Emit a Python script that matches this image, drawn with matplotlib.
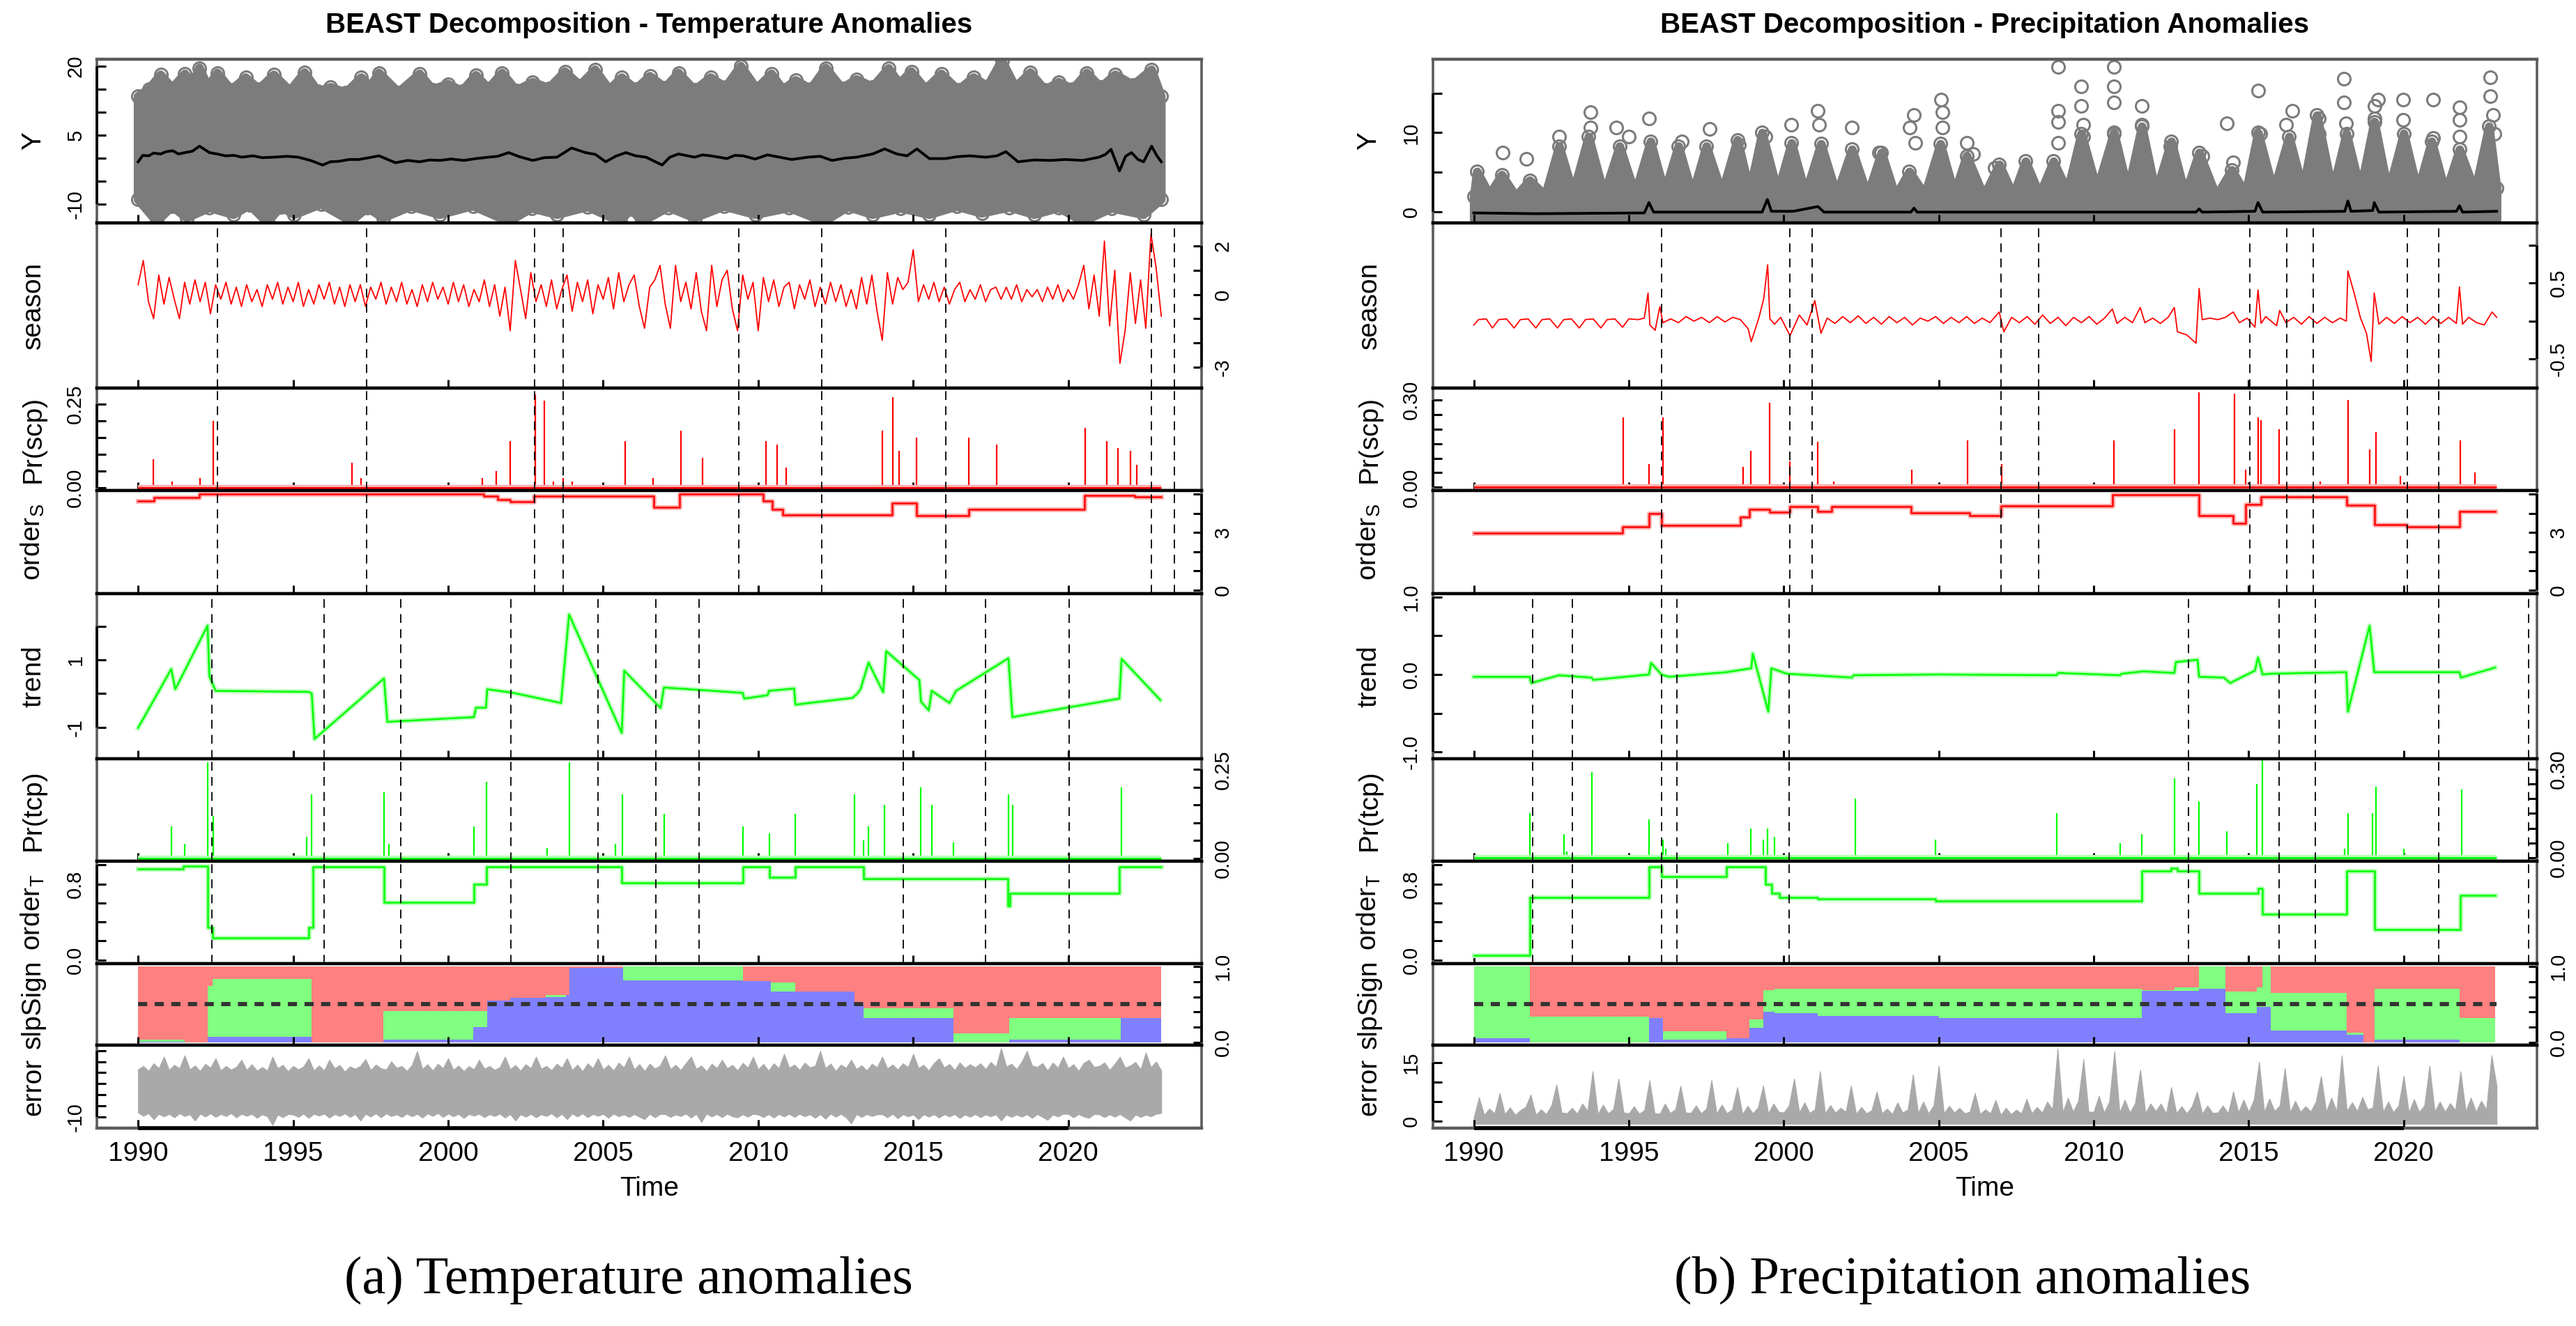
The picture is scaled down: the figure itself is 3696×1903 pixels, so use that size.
import numpy as np
import matplotlib
matplotlib.use("Agg")
import matplotlib.pyplot as plt
from matplotlib.transforms import blended_transform_factory

plt.rcParams['font.family'] = ['Liberation Sans', 'DejaVu Sans']
plt.rcParams['mathtext.fontset'] = 'custom'
plt.rcParams['mathtext.rm'] = 'Liberation Sans'

# ---------------------------------------------------------------- data
DATA_START, DATA_END = 1990.0, 2023.0
YEAR_TICKS = [1990, 1995, 2000, 2005, 2010, 2015, 2020]

# ===== temperature anomalies (left) =====
# Y: envelope of the dense circle cloud
t_ytop_x = [1990.0, 1990.35, 1990.73, 1991.1, 1991.51, 1991.75, 1991.98, 1992.25,
            1992.56, 1993.0, 1993.47, 1993.9, 1994.38, 1994.9, 1995.37, 1995.8,
            1996.21, 1996.7, 1997.2, 1997.5, 1997.77, 1998.4, 1999.08, 1999.5,
            1999.99, 2000.45, 2000.9, 2001.3, 2001.74, 2002.2, 2002.73, 2003.25,
            2003.77, 2004.25, 2004.74, 2005.2, 2005.6, 2006.05, 2006.51, 2007.0,
            2007.43, 2007.95, 2008.47, 2008.95, 2009.44, 2009.95, 2010.43, 2010.8,
            2011.21, 2011.7, 2012.18, 2012.7, 2013.17, 2013.7, 2014.21, 2014.55,
            2014.94, 2015.4, 2015.91, 2016.45, 2016.95, 2017.4, 2017.86, 2018.3,
            2018.78, 2019.25, 2019.69, 2020.15, 2020.6, 2021.05, 2021.52, 2022.1,
            2022.69, 2023.0]
t_ytop_v = [13.4, 15.0, 18.1, 15.2, 18.3, 16.0, 19.6, 15.5,
            18.5, 14.8, 17.5, 15.0, 18.1, 14.6, 18.6, 14.5,
            15.4, 14.2, 17.5, 15.6, 18.5, 14.3, 18.3, 14.9,
            16.1, 14.6, 18.0, 15.1, 18.5, 14.7, 16.5, 15.2,
            18.8, 15.8, 19.2, 14.9, 17.5, 15.0, 17.8, 15.3,
            18.5, 14.8, 17.5, 15.4, 20.0, 15.1, 18.3, 14.9,
            16.9, 15.0, 19.6, 15.2, 17.1, 15.5, 19.5, 16.2,
            18.8, 15.0, 18.3, 14.8, 17.5, 15.6, 21.2, 15.4,
            18.6, 14.8, 16.5, 15.0, 18.5, 15.4, 18.1, 15.9,
            19.2, 13.4]
t_ybot_x = [1990.0, 1990.6, 1991.1, 1991.57, 1992.3, 1993.08, 1993.6, 1994.17,
            1994.6, 1995.04, 1995.9, 1996.86, 1997.4, 1997.9, 1998.8, 1999.73,
            2000.8, 2001.95, 2002.7, 2003.51, 2004.5, 2005.55, 2005.9, 2006.25,
            2007.1, 2007.95, 2008.9, 2009.91, 2011.0, 2012.12, 2012.9, 2013.69,
            2014.6, 2015.52, 2016.4, 2017.21, 2018.1, 2018.91, 2019.7, 2020.47,
            2021.4, 2022.43, 2023.0]
t_ybot_v = [-9.0, -13.8, -10.5, -13.0, -10.8, -12.3, -10.2, -14.0,
            -10.6, -12.3, -10.0, -13.7, -10.8, -13.0, -10.5, -12.3,
            -10.4, -13.8, -10.9, -12.3, -10.6, -13.8, -11.0, -13.8,
            -10.7, -13.0, -10.5, -12.3, -10.8, -13.8, -10.6, -12.3,
            -10.9, -12.3, -10.5, -12.0, -10.7, -12.3, -10.8, -13.8,
            -10.9, -12.3, -9.0]
# fitted curve (black line)
t_fit_x = [1990.0, 1990.15, 1990.34, 1990.5, 1990.73, 1990.9, 1991.12, 1991.3, 1991.51,
           1991.75, 1991.98, 1992.3, 1992.55, 1992.82, 1993.1, 1993.34, 1993.7, 1994.0,
           1994.38, 1994.8, 1995.17, 1995.56, 1995.95, 1996.2, 1996.47, 1996.8, 1997.12,
           1997.45, 1997.77, 1998.3, 1998.7, 1999.08, 1999.4, 1999.73, 2000.1, 2000.51,
           2000.9, 2001.3, 2001.6, 2001.95, 2002.3, 2002.73, 2003.1, 2003.51, 2003.98,
           2004.43, 2004.75, 2005.08, 2005.4, 2005.73, 2006.05, 2006.38, 2006.9, 2007.15,
           2007.43, 2007.95, 2008.2, 2008.47, 2008.99, 2009.25, 2009.51, 2009.9, 2010.3,
           2011.08, 2011.6, 2012.0, 2012.38, 2012.8, 2013.17, 2013.69, 2014.08, 2014.47,
           2014.8, 2015.12, 2015.52, 2016.04, 2016.4, 2016.82, 2017.34, 2017.7, 2017.99,
           2018.38, 2018.9, 2019.43, 2019.9, 2020.47, 2020.99, 2021.2, 2021.38, 2021.65,
           2021.85, 2022.04, 2022.25, 2022.43, 2022.69, 2022.85, 2023.0]
t_fit_v = [-0.8, 0.6, 0.5, 1.1, 0.9, 1.4, 1.6, 0.9, 1.2,
           1.5, 2.6, 1.2, 0.9, 0.5, 0.6, 0.2, 0.5, 0.1,
           0.2, 0.4, 0.2, -0.5, -1.5, -0.8, -0.7, -0.3, -0.3,
           0.1, 0.5, -1.0, -0.5, -0.8, -0.4, -0.5, -0.2, -0.5,
           -0.1, 0.2, 0.4, 1.2, 0.3, -0.5, 0.1, 0.2, 2.2,
           1.2, 0.8, -0.8, 0.4, 1.2, 0.5, 0.2, -1.5, 0.2,
           0.9, 0.2, 0.7, 0.5, -0.1, 0.6, 0.5, -0.2, 0.7,
           -0.3, 0.2, 0.4, -0.5, 0.0, 0.2, 0.9, 2.0, 0.9,
           0.5, 2.0, -0.1, -0.1, 0.3, 0.5, 0.2, 0.5, 1.4,
           -0.8, -0.4, -0.5, -0.3, -0.5, 0.2, 0.8, 1.9, -2.8,
           0.4, 1.2, -0.3, -0.8, 2.6, 0.6, -0.8]
# seasonal component, 6 values per year 1990-2022, plus 2023.0
t_season = [
    0.4, 1.4, -0.3, -1.0, 0.8, -0.4,     # 1990
    0.7, -0.2, -1.0, 0.5, -0.4, 0.6,     # 1991
    -0.3, 0.5, -0.8, 0.4, -0.2, 0.5,     # 1992
    -0.4, 0.3, -0.5, 0.4, -0.3, 0.2,     # 1993
    -0.5, 0.4, -0.2, 0.5, -0.4, 0.3,     # 1994
    -0.3, 0.5, -0.5, 0.2, -0.4, 0.4,     # 1995
    -0.2, 0.5, -0.4, 0.3, -0.5, 0.4,     # 1996
    -0.3, 0.4, -0.5, 0.3, -0.2, 0.5,     # 1997
    -0.4, 0.3, -0.3, 0.5, -0.4, 0.2,     # 1998
    -0.5, 0.4, -0.3, 0.5, -0.2, 0.3,     # 1999
    -0.4, 0.5, -0.3, 0.4, -0.5, 0.2,     # 2000
    -0.3, 0.6, -0.5, 0.4, -0.9, 0.3,     # 2001
    -1.5, 1.4, 0.2, -1.0, 0.9, -0.3,     # 2002
    0.4, -0.5, 0.6, -0.6, 0.2, 0.8,      # 2003
    -0.7, 0.5, -0.3, 0.6, -0.8, 0.4,     # 2004
    -0.2, 0.7, -0.6, 0.9, -0.3, 0.4,     # 2005
    0.8, -0.5, -1.4, 0.3, 0.6, 1.2,      # 2006
    -0.4, -1.4, 1.2, -0.3, 0.5, -0.6,    # 2007
    0.9, -0.7, -1.5, 1.2, -0.5, 0.6,     # 2008
    1.0, -0.6, -1.5, 0.8, -0.2, 0.5,     # 2009
    -1.5, 0.7, -0.3, 0.6, -0.5, 0.3,     # 2010
    0.5, -0.6, 0.4, -0.2, 0.6, -0.5,     # 2011
    0.3, -0.4, 0.5, -0.3, 0.4, -0.5,     # 2012
    0.2, -0.6, 0.7, -0.4, 0.8, -0.7,     # 2013
    -1.9, 0.9, -0.4, 0.7, 0.2, 0.5,      # 2014
    1.85, -0.3, 0.4, -0.2, 0.5, -0.3,    # 2015
    0.3, -0.4, 0.2, 0.5, -0.3, 0.2,      # 2016
    -0.2, 0.4, -0.3, 0.2, 0.3, -0.2,     # 2017
    0.3, -0.2, 0.4, -0.3, 0.2, -0.1,     # 2018
    0.2, -0.3, 0.3, -0.2, 0.4, -0.3,     # 2019
    0.2, -0.2, 0.4, 1.2, -0.6, 0.8,      # 2020
    -0.9, 2.2, -1.3, 1.0, -2.85, -1.5,   # 2021
    0.9, -1.2, 0.6, -1.4, 2.5, 1.1,      # 2022
    -0.9]                                # 2023.0
t_scp = [1992.56, 1997.38, 2002.78, 2003.7, 2009.38, 2012.05, 2016.04, 2022.69, 2023.42]
t_scp_prob_x = [1990.5, 1991.1, 1992.0, 1992.43, 1996.9, 1997.2, 2001.1, 2001.55, 2002.0,
                2002.8, 2003.1, 2003.4, 2003.7, 2004.0, 2005.7, 2006.6, 2007.5, 2008.2,
                2010.25, 2010.6, 2010.9, 2014.0, 2014.35, 2014.55, 2015.1, 2016.8, 2017.7,
                2020.55, 2021.25, 2021.6, 2022.0, 2022.2]
t_scp_prob_v = [0.085, 0.02, 0.03, 0.20, 0.075, 0.03, 0.03, 0.05, 0.14,
                0.28, 0.26, 0.02, 0.03, 0.02, 0.14, 0.03, 0.17, 0.09,
                0.14, 0.13, 0.06, 0.17, 0.27, 0.11, 0.15, 0.15, 0.13,
                0.18, 0.14, 0.12, 0.11, 0.07]
t_ords_x = [1990.0, 1990.51, 1991.97, 2001.15, 2001.6, 2001.99, 2002.77, 2006.63, 2007.47,
            2010.15, 2010.45, 2010.8, 2014.33, 2015.11, 2016.8, 2020.53, 2022.15, 2023.0]
t_ords_v = [4.64, 4.85, 5.0, 4.9, 4.73, 4.6, 4.92, 4.32, 5.0,
            4.64, 4.2, 3.91, 4.56, 3.88, 4.23, 4.96, 4.88, 4.88]
t_trend_x = [1990.0, 1991.07, 1991.2, 1992.24, 1992.3, 1992.5, 1995.5, 1995.6, 1995.69,
             1997.93, 1998.04, 2000.83, 2000.9, 2001.22, 2001.26, 2002.1, 2003.64, 2003.9,
             2005.6, 2005.68, 2006.85, 2006.96, 2009.5, 2009.55, 2010.3, 2010.35, 2011.16,
             2011.2, 2013.04, 2013.2, 2013.3, 2013.56, 2014.03, 2014.13, 2015.2, 2015.25,
             2015.5, 2015.6, 2016.17, 2016.38, 2018.07, 2018.2, 2021.65, 2021.72, 2022.97]
t_trend_v = [-1.02, 0.73, 0.13, 2.02, 0.51, 0.08, 0.05, 0.0, -1.35,
             0.45, -0.84, -0.70, -0.42, -0.42, 0.13, 0.02, -0.28, 2.35,
             -1.17, 0.68, -0.43, 0.18, 0.02, -0.15, -0.05, 0.08, 0.15,
             -0.33, -0.13, 0.0, 0.13, 0.92, 0.04, 1.26, 0.40, -0.24,
             -0.50, 0.08, -0.28, 0.08, 1.05, -0.70, -0.15, 1.03, -0.19]
t_tcp = [1992.37, 1996.0, 1998.48, 2002.03, 2004.84, 2006.7, 2008.1, 2014.68, 2017.34, 2020.03]
t_tcp_prob_x = [1991.07, 1991.5, 1992.24, 1992.43, 1995.43, 1995.6, 1997.93, 1998.1, 2000.83,
                2001.24, 2003.2, 2003.9, 2005.4, 2005.63, 2006.96, 2009.5, 2010.37, 2011.2,
                2013.1, 2013.4, 2013.56, 2014.08, 2015.25, 2015.6, 2016.3, 2018.07, 2018.2,
                2021.72]
t_tcp_prob_v = [0.09, 0.04, 0.27, 0.12, 0.06, 0.18, 0.185, 0.04, 0.09,
                0.215, 0.03, 0.27, 0.04, 0.18, 0.125, 0.09, 0.07, 0.125,
                0.18, 0.05, 0.09, 0.15, 0.20, 0.15, 0.045, 0.18, 0.15,
                0.20]
t_ordt_x = [1990.0, 1991.46, 1992.24, 1992.4, 1995.5, 1995.63, 1997.93, 2000.83, 2001.24,
            2005.6, 2009.5, 2010.37, 2011.2, 2013.4, 2018.05, 2018.12, 2021.65, 2023.0]
t_ordt_v = [0.96, 0.99, 0.34, 0.23, 0.34, 0.98, 0.61, 0.80, 0.98,
            0.81, 0.98, 0.87, 0.98, 0.86, 0.57, 0.70, 0.98, 0.98]
# slope sign probabilities (step series): Pr(slope>0), Pr(slope=0); rest is Pr(slope<0)
t_slp_x = [1990.0, 1991.5, 1992.25, 1992.4, 1995.6, 1997.9, 2000.8, 2001.25, 2002.0, 2003.15,
           2003.8, 2003.9, 2005.65, 2009.5, 2010.4, 2011.2, 2013.1, 2013.4, 2016.3, 2018.1,
           2021.7, 2023.0]
t_slp_pos = [0.01, 0.0, 0.07, 0.07, 0.0, 0.03, 0.20, 0.55, 0.59, 0.60,
             0.62, 0.98, 0.82, 0.81, 0.67, 0.67, 0.52, 0.32, 0.0, 0.03,
             0.32, 0.32]
t_slp_zero = [0.02, 0.0, 0.67, 0.77, 0.0, 0.38, 0.21, 0.0, 0.0, 0.02,
              0.0, 0.0, 0.18, 0.0, 0.12, 0.0, 0.0, 0.13, 0.12, 0.29,
              0.0, 0.0]
# residuals: upper / lower edge of the band, 6 values per year, plus 2023.0
t_err_top = [
    11.5, 13.0, 10.8, 14.2, 12.0, 17.2,   # 1990
    11.2, 13.5, 12.0, 17.8, 11.5, 13.2,   # 1991
    10.8, 14.0, 12.2, 16.5, 11.0, 13.0,   # 1992
    11.4, 12.6, 15.8, 11.2, 13.8, 10.9,   # 1993
    12.5, 11.0, 17.2, 12.0, 13.5, 10.6,   # 1994
    13.0, 11.5, 12.8, 16.5, 11.0, 13.2,   # 1995
    11.0, 15.8, 12.0, 13.4, 10.5, 12.8,   # 1996
    11.8, 13.0, 16.1, 11.2, 13.6, 12.0,   # 1997
    11.4, 15.1, 12.2, 13.0, 10.8, 13.5,   # 1998
    19.8, 11.6, 13.8, 11.0, 14.0, 12.0,   # 1999
    16.5, 11.3, 13.2, 10.7, 12.9, 11.5,   # 2000
    15.8, 11.8, 13.0, 11.3, 12.5, 17.2,   # 2001
    11.6, 13.4, 10.9, 13.8, 12.0, 17.2,   # 2002
    11.8, 13.0, 11.1, 14.0, 12.2, 16.5,   # 2003
    11.2, 13.6, 10.6, 14.2, 12.0, 16.5,   # 2004
    11.4, 13.5, 11.0, 14.5, 12.3, 17.2,   # 2005
    11.5, 13.8, 10.8, 14.0, 11.9, 13.2,   # 2006
    17.8, 11.6, 13.5, 11.2, 14.3, 17.2,   # 2007
    11.7, 13.2, 10.6, 14.0, 12.1, 15.8,   # 2008
    12.0, 13.5, 11.0, 14.4, 12.3, 17.2,   # 2009
    11.5, 13.9, 10.9, 14.2, 12.0, 18.5,   # 2010
    12.2, 13.6, 11.2, 14.5, 12.4, 13.1,   # 2011
    19.8, 12.0, 14.1, 10.8, 13.6, 12.2,   # 2012
    15.8, 11.6, 13.3, 11.0, 14.0, 12.4,   # 2013
    17.2, 11.9, 13.7, 11.4, 14.2, 12.5,   # 2014
    18.5, 12.1, 13.5, 11.0, 14.3, 16.5,   # 2015
    12.3, 13.9, 11.2, 14.6, 12.1, 13.8,   # 2016
    12.4, 14.2, 11.6, 14.8, 12.6, 21.0,   # 2017
    12.8, 14.0, 11.6, 15.0, 19.8, 13.2,   # 2018
    12.6, 14.3, 11.0, 14.5, 12.2, 17.2,   # 2019
    12.0, 13.8, 10.8, 14.4, 15.8, 12.6,   # 2020
    13.0, 14.6, 11.2, 14.0, 17.2, 12.3,   # 2021
    13.2, 14.8, 11.5, 19.1, 12.4, 15.0,   # 2022
    11.0]
t_err_bot = [
    -8.0, -9.5, -8.3, -11.0, -8.6, -9.8,    # 1990
    -8.6, -10.2, -8.4, -9.6, -8.8, -11.6,   # 1991
    -8.5, -9.8, -8.4, -10.0, -8.7, -9.6,    # 1992
    -8.3, -10.2, -8.6, -9.5, -8.6, -10.4,   # 1993
    -8.8, -9.7, -13.6, -8.9, -10.1, -8.7,   # 1994
    -8.9, -10.0, -8.5, -10.4, -8.6, -9.4,   # 1995
    -8.5, -10.3, -8.7, -9.6, -8.4, -10.0,   # 1996
    -8.7, -11.6, -8.6, -9.8, -8.4, -10.2,   # 1997
    -8.4, -9.6, -8.8, -10.0, -8.5, -9.7,    # 1998
    -8.6, -10.3, -8.4, -9.5, -8.2, -10.0,   # 1999
    -8.5, -9.7, -8.6, -10.5, -8.7, -9.4,    # 2000
    -8.6, -10.1, -8.8, -9.6, -8.5, -10.3,   # 2001
    -8.7, -11.6, -8.8, -9.9, -8.6, -10.2,   # 2002
    -8.8, -9.6, -8.4, -10.2, -8.6, -11.0,   # 2003
    -8.4, -9.8, -8.4, -10.1, -8.7, -9.5,    # 2004
    -8.6, -10.4, -8.5, -9.7, -8.8, -10.0,   # 2005
    -8.7, -9.9, -11.0, -8.6, -10.2, -8.7,   # 2006
    -8.7, -10.0, -8.9, -9.6, -8.5, -10.3,   # 2007
    -8.6, -12.3, -8.5, -9.8, -8.7, -10.1,   # 2008
    -8.5, -9.7, -10.2, -8.8, -9.9, -8.6,    # 2009
    -8.9, -10.1, -8.7, -10.3, -8.6, -9.8,   # 2010
    -8.6, -10.0, -8.6, -9.7, -8.8, -10.4,   # 2011
    -8.7, -10.8, -8.5, -9.9, -8.6, -10.2,   # 2012
    -12.9, -8.7, -10.0, -8.7, -9.6, -8.8,   # 2013
    -8.8, -10.2, -8.6, -10.6, -8.8, -9.7,   # 2014
    -8.9, -11.0, -8.8, -9.9, -8.8, -10.3,   # 2015
    -8.8, -9.8, -8.7, -10.5, -8.9, -9.9,    # 2016
    -8.7, -10.1, -8.9, -9.7, -8.8, -11.6,   # 2017
    -8.9, -10.0, -8.9, -9.9, -8.8, -10.4,   # 2018
    -8.7, -10.0, -11.3, -8.9, -9.8, -8.6,   # 2019
    -8.6, -10.2, -8.7, -9.8, -10.4, -8.7,   # 2020
    -8.8, -10.1, -8.8, -9.9, -8.7, -10.2,   # 2021
    -11.6, -8.9, -10.0, -9.0, -9.7, -8.6,   # 2022
    -8.2]

# ===== precipitation anomalies (right) =====
p_ytop_x = [1990.0, 1990.1, 1990.5, 1990.9, 1991.35, 1991.8, 1992.3, 1992.75, 1993.2,
            1993.7, 1994.2, 1994.7, 1995.2, 1995.7, 1996.15, 1996.6, 1997.05, 1997.5,
            1998.0, 1998.5, 1998.9, 1999.3, 1999.8, 2000.25, 2000.7, 2001.2, 2001.7,
            2002.2, 2002.7, 2003.15, 2003.6, 2004.05, 2004.55, 2005.05, 2005.5, 2005.9,
            2006.45, 2006.95, 2007.4, 2007.8, 2008.25, 2008.7, 2009.15, 2009.6, 2010.1,
            2010.65, 2011.1, 2011.55, 2012.0, 2012.5, 2012.95, 2013.4, 2013.95, 2014.45,
            2014.9, 2015.3, 2015.8, 2016.3, 2016.75, 2017.2, 2017.7, 2018.15, 2018.6,
            2019.05, 2019.5, 2020.0, 2020.45, 2020.9, 2021.35, 2021.8, 2022.3, 2022.75,
            2023.0]
p_ytop_v = [2.0, 5.1, 2.2, 4.7, 2.0, 4.0, 2.1, 8.3, 2.4,
            9.5, 2.2, 8.3, 2.3, 8.9, 2.5, 8.3, 2.2, 8.3,
            2.4, 9.1, 2.6, 10.0, 2.5, 8.7, 2.3, 8.6, 2.2,
            7.9, 2.1, 7.5, 2.0, 5.1, 2.2, 8.6, 2.3, 7.1,
            2.0, 6.0, 2.1, 6.4, 2.2, 6.4, 2.6, 9.9, 2.8,
            10.0, 2.7, 10.8, 2.4, 8.9, 2.2, 7.5, 2.0, 5.3,
            2.3, 10.0, 2.6, 9.5, 2.8, 12.2, 2.6, 9.9, 2.7,
            11.4, 2.5, 9.9, 2.6, 8.9, 2.4, 7.9, 2.6, 10.8,
            3.0]
p_ylow = -0.9
p_out_x = [1990.92, 1991.7, 1992.76, 1993.76, 1993.76, 1994.6, 1995.65, 1995.0, 1996.7,
           1997.6, 1998.55, 1999.4, 2000.25, 2001.1, 2001.15, 2002.2, 2003.07, 2004.07,
           2004.2, 2004.25, 2005.07, 2005.12, 2005.12, 2005.9, 2006.1, 2006.8, 2008.85,
           2008.85, 2008.85, 2008.85, 2009.6, 2009.6, 2009.65, 2009.65, 2010.64, 2010.64,
           2010.64, 2010.64, 2011.56, 2011.56, 2012.48, 2013.5, 2014.3, 2014.5, 2015.3,
           2015.38, 2016.2, 2016.4, 2017.27, 2017.27, 2018.06, 2018.06, 2018.14, 2019.05,
           2019.18, 2019.05, 2019.98, 2019.98, 2020.95, 2020.95, 2021.8, 2021.8, 2021.8,
           2022.8, 2022.8, 2022.88, 2022.92]
p_out_v = [7.5, 6.7, 9.5, 12.6, 10.7, 10.7, 11.8, 9.5, 8.9,
           10.5, 8.5, 9.5, 11.0, 12.8, 11.0, 10.7, 7.5, 10.7,
           12.2, 8.7, 14.2, 12.6, 10.7, 8.7, 7.3, 5.6, 18.3,
           12.8, 11.4, 8.7, 15.8, 13.4, 11.0, 9.5, 18.3, 15.8,
           13.8, 9.9, 13.4, 11.0, 8.3, 7.1, 11.2, 6.3, 15.3,
           9.9, 11.0, 12.8, 11.8, 9.9, 16.8, 13.8, 11.2, 13.4,
           14.2, 11.8, 14.2, 11.6, 14.2, 9.3, 13.2, 11.6, 9.5,
           17.0, 14.6, 12.2, 9.9]
p_fit_x = [1990.0, 1992.0, 1995.5, 1995.65, 1995.8, 1999.3, 1999.47, 1999.6, 2000.3,
           2001.1, 2001.3, 2004.1, 2004.2, 2004.3, 2013.3, 2013.4, 2013.5, 2015.2,
           2015.3, 2015.45, 2018.1, 2018.2, 2018.3, 2019.0, 2019.05, 2019.2, 2021.7,
           2021.8, 2021.9, 2023.0]
p_fit_v = [-0.1, -0.2, -0.1, 1.2, 0.0, 0.0, 1.6, 0.1, 0.1,
           0.7, 0.0, 0.0, 0.5, 0.0, 0.0, 0.4, 0.0, 0.1,
           1.2, 0.0, 0.1, 1.4, 0.1, 0.2, 1.2, 0.0, 0.1,
           0.8, 0.0, 0.1]
p_season_x = [1990.0, 1990.15, 1990.4, 1990.6, 1990.8, 1991.05, 1991.3, 1991.5, 1991.75, 1992.0,
              1992.2, 1992.45, 1992.7, 1992.9, 1993.15, 1993.4, 1993.6, 1993.85, 1994.1, 1994.3,
              1994.55, 1994.8, 1995.0, 1995.3, 1995.5, 1995.62, 1995.68, 1995.85, 1996.0, 1996.1,
              1996.35, 1996.6, 1996.85, 1997.1, 1997.35, 1997.6, 1997.85, 1998.1, 1998.35, 1998.6,
              1998.85, 1998.95, 1999.2, 1999.35, 1999.48, 1999.55, 1999.7, 1999.9, 2000.2, 2000.5,
              2000.75, 2001.0, 2001.2, 2001.4, 2001.65, 2001.9, 2002.15, 2002.4, 2002.65, 2002.9,
              2003.15, 2003.4, 2003.65, 2003.9, 2004.15, 2004.4, 2004.65, 2004.9, 2005.15, 2005.4,
              2005.65, 2005.9, 2006.15, 2006.4, 2006.65, 2006.95, 2007.1, 2007.35, 2007.6, 2007.85,
              2008.1, 2008.35, 2008.6, 2008.85, 2009.1, 2009.35, 2009.6, 2009.85, 2010.1, 2010.35,
              2010.6, 2010.75, 2011.0, 2011.25, 2011.5, 2011.65, 2011.9, 2012.15, 2012.4, 2012.6,
              2012.7, 2013.0, 2013.3, 2013.4, 2013.5, 2013.75, 2014.0, 2014.25, 2014.5, 2014.7,
              2014.95, 2015.2, 2015.3, 2015.4, 2015.55, 2015.75, 2015.9, 2016.0, 2016.2, 2016.45,
              2016.7, 2016.95, 2017.2, 2017.45, 2017.7, 2017.95, 2018.15, 2018.2, 2018.4, 2018.6,
              2018.8, 2018.95, 2019.05, 2019.2, 2019.45, 2019.7, 2019.95, 2020.2, 2020.45, 2020.7,
              2020.95, 2021.2, 2021.45, 2021.7, 2021.8, 2021.9, 2022.1, 2022.35, 2022.6, 2022.85,
              2023.0]
p_season_v = [-0.05, 0.02, 0.03, -0.09, 0.02, 0.03, -0.09, 0.02, 0.03, -0.09,
              0.02, 0.03, -0.09, 0.02, 0.03, -0.09, 0.02, 0.03, -0.09, 0.02,
              0.03, -0.08, 0.03, 0.02, 0.04, 0.37, -0.05, -0.12, 0.19, -0.02,
              0.03, -0.02, 0.06, 0.0, 0.05, -0.02, 0.06, -0.01, 0.05, 0.02,
              -0.10, -0.27, 0.05, 0.29, 0.74, 0.03, -0.04, 0.05, -0.19, 0.08,
              -0.05, 0.27, -0.16, 0.04, -0.03, 0.06, -0.02, 0.07, -0.03, 0.05,
              -0.04, 0.06, -0.02, 0.05, -0.05, 0.04, 0.0, 0.06, -0.03, 0.05,
              -0.02, 0.06, -0.03, 0.04, -0.02, 0.12, -0.14, 0.05, -0.02, 0.06,
              -0.04, 0.08, -0.03, 0.05, -0.06, 0.05, -0.02, 0.06, -0.04, 0.04,
              0.16, -0.03, 0.05, -0.02, 0.18, -0.02, 0.04, -0.03, 0.05, 0.18,
              -0.14, -0.18, -0.29, 0.43, 0.02, 0.04, 0.02, 0.05, 0.12, -0.02,
              0.04, -0.08, 0.41, -0.03, 0.06, -0.01, -0.06, 0.14, -0.02, 0.05,
              -0.04, 0.06, -0.03, 0.05, -0.02, 0.04, 0.0, 0.66, 0.37, 0.05,
              -0.16, -0.53, 0.37, -0.04, 0.05, -0.03, 0.06, -0.02, 0.05, -0.04,
              0.06, -0.03, 0.05, -0.03, 0.45, -0.04, 0.05, -0.02, -0.05, 0.12,
              0.05]
p_scp = [1996.05, 2000.2, 2000.91, 2007.01, 2008.22, 2015.03, 2016.22, 2017.08, 2020.11, 2021.13]
p_scp_prob_x = [1994.81, 1995.65, 1996.1, 1998.68, 1998.94, 1999.55, 2000.2, 2001.1, 2001.6,
                2004.12, 2005.93, 2007.04, 2010.64, 2012.61, 2013.4, 2014.53, 2014.9, 2015.3,
                2015.4, 2015.98, 2017.3, 2018.2, 2018.9, 2019.1, 2019.9, 2021.82, 2022.3]
p_scp_prob_v = [0.24, 0.08, 0.24, 0.07, 0.125, 0.29, 0.09, 0.155, 0.02,
                0.06, 0.16, 0.08, 0.16, 0.20, 0.325, 0.32, 0.06, 0.24,
                0.23, 0.20, 0.02, 0.30, 0.13, 0.19, 0.04, 0.16, 0.05]
p_ords_x = [1990.0, 1994.8, 1995.65, 1996.05, 1998.6, 1998.9, 1999.55, 2000.2, 2001.1, 2001.55,
            2004.1, 2006.0, 2007.0, 2010.6, 2013.4, 2014.5, 2014.9, 2015.4, 2018.15, 2019.05,
            2020.1, 2021.8, 2022.95]
p_ords_v = [2.98, 3.31, 3.99, 3.39, 3.8, 4.2, 4.07, 4.36, 4.12, 4.36,
            4.03, 3.9, 4.4, 4.97, 3.88, 3.5, 4.48, 4.86, 4.44, 3.42,
            3.3, 4.12, 4.12]
p_trend_x = [1990.0, 1991.8, 1991.85, 1992.75, 1993.1, 1993.8, 1993.85, 1995.65, 1995.72,
             1996.05, 1996.3, 1998.15, 1998.95, 1999.0, 1999.5, 1999.6, 2000.1, 2002.2,
             2002.25, 2005.0, 2008.8, 2008.85, 2010.85, 2010.9, 2011.6, 2012.6, 2012.65,
             2013.35, 2013.4, 2014.2, 2014.4, 2015.2, 2015.3, 2015.45, 2015.7, 2018.15,
             2018.2, 2018.9, 2019.05, 2021.8, 2021.85, 2022.95]
p_trend_v = [-0.03, -0.03, -0.11, -0.01, -0.02, -0.04, -0.07, 0.0, 0.15,
             0.0, -0.03, 0.03, 0.08, 0.27, -0.48, 0.08, 0.01, -0.04,
             -0.01, 0.0, -0.01, 0.02, -0.01, 0.01, 0.04, 0.02, 0.16,
             0.19, -0.03, -0.04, -0.11, 0.05, 0.22, 0.0, 0.01, 0.03,
             -0.48, 0.63, 0.03, 0.03, -0.04, 0.09]
p_tcp = [1991.89, 1993.18, 1996.05, 1996.55, 2000.18, 2013.06, 2015.98, 2017.16, 2021.13, 2024.03]
p_tcp_prob_x = [1991.8, 1992.9, 1993.0, 1993.8, 1995.65, 1996.1, 1996.2, 1998.2, 1998.94,
                1999.35, 1999.47, 1999.7, 2002.3, 2004.9, 2008.8, 2010.85, 2011.55, 2012.6,
                2013.4, 2014.3, 2015.25, 2015.43, 2018.1, 2018.2, 2019.0, 2019.1, 2020.0,
                2021.87]
p_tcp_prob_v = [0.15, 0.08, 0.02, 0.29, 0.13, 0.06, 0.03, 0.05, 0.10,
                0.06, 0.10, 0.07, 0.20, 0.06, 0.15, 0.05, 0.08, 0.27,
                0.19, 0.09, 0.25, 0.33, 0.03, 0.15, 0.15, 0.24, 0.03,
                0.23]
p_ordt_x = [1990.0, 1991.8, 1995.65, 1996.05, 1998.15, 1999.4, 1999.6, 1999.85, 2001.1,
            2004.9, 2011.55, 2012.5, 2012.7, 2013.4, 2015.3, 2015.45, 2018.15, 2019.05,
            2021.82, 2022.95]
p_ordt_v = [0.05, 0.66, 0.98, 0.88, 0.98, 0.80, 0.70, 0.66, 0.64,
            0.62, 0.94, 0.97, 0.94, 0.70, 0.75, 0.48, 0.94, 0.32,
            0.68, 0.68]
p_slp_x = [1990.0, 1991.8, 1992.3, 1995.65, 1996.1, 1998.15, 1998.9, 1999.35, 1999.7,
           2001.1, 2005.0, 2011.55, 2012.6, 2013.4, 2014.25, 2015.25, 2015.45, 2015.7,
           2018.15, 2018.7, 2019.05, 2021.8, 2022.95]
p_slp_pos = [0.05, 0.0, 0.0, 0.32, 0.03, 0.05, 0.19, 0.40, 0.38,
             0.35, 0.32, 0.68, 0.68, 0.71, 0.38, 0.47, 0.47, 0.15,
             0.10, 0.0, 0.03, 0.0, 0.0]
p_slp_zero = [0.95, 0.34, 0.34, 0.0, 0.11, 0.0, 0.11, 0.29, 0.33,
              0.36, 0.39, 0.01, 0.05, 0.29, 0.29, 0.26, 0.53, 0.50,
              0.03, 0.0, 0.68, 0.32, 0.32]
# residual upper edge, 6 values per year, plus 2023.0
p_err_top = [
    1.0, 6.1, 1.6, 3.2, 2.0, 7.2,     # 1990
    1.8, 3.5, 1.6, 2.8, 3.6, 6.8,     # 1991
    1.6, 3.0, 1.8, 4.0, 9.4, 2.2,     # 1992
    2.0, 3.4, 1.9, 4.5, 2.6, 12.8,    # 1993
    1.8, 4.2, 2.0, 3.1, 10.9, 2.2,    # 1994
    2.0, 3.8, 1.9, 2.8, 10.5, 2.0,    # 1995
    1.9, 4.5, 2.1, 3.0, 9.1, 2.2,     # 1996
    2.1, 4.0, 2.0, 3.2, 10.5, 2.0,    # 1997
    4.2, 2.0, 3.0, 8.7, 1.8, 3.9,     # 1998
    2.0, 3.5, 9.1, 2.0, 4.5, 2.4,     # 1999
    2.2, 4.0, 10.9, 2.2, 4.8, 2.1,    # 2000
    3.0, 12.8, 2.0, 4.1, 2.2, 3.4,    # 2001
    2.4, 9.1, 1.9, 3.6, 2.0, 2.8,     # 2002
    7.6, 2.0, 3.2, 1.8, 4.8, 2.2,     # 2003
    3.0, 12.0, 2.1, 5.0, 2.0, 4.0,    # 2004
    14.2, 2.0, 3.9, 2.2, 3.4, 2.0,    # 2005
    2.4, 7.2, 1.8, 3.0, 2.0, 5.4,     # 2006
    1.6, 3.4, 1.8, 2.9, 2.0, 5.7,     # 2007
    2.0, 3.6, 2.2, 5.0, 3.0, 18.6,    # 2008
    2.3, 6.0, 2.4, 5.2, 15.9, 2.4,    # 2009
    2.4, 6.5, 2.2, 5.0, 18.0, 2.2,    # 2010
    5.5, 2.2, 4.6, 13.2, 2.1, 4.5,    # 2011
    2.6, 4.5, 2.0, 8.7, 2.0, 3.8,     # 2012
    2.0, 3.8, 7.6, 1.9, 4.0, 2.1,     # 2013
    2.2, 4.0, 2.0, 7.6, 2.3, 5.5,     # 2014
    2.4, 5.5, 15.2, 2.4, 5.8, 2.6,    # 2015
    4.0, 13.6, 2.3, 5.2, 2.4, 3.8,    # 2016
    2.5, 5.0, 11.6, 2.5, 6.0, 2.6,    # 2017
    16.9, 2.6, 4.8, 2.6, 6.2, 3.0,    # 2018
    3.5, 14.2, 2.4, 5.0, 2.3, 4.0,    # 2019
    11.6, 2.3, 5.6, 2.4, 4.0, 14.2,   # 2020
    2.5, 5.0, 2.4, 4.6, 2.8, 12.8,    # 2021
    2.6, 6.0, 2.4, 5.2, 3.0, 16.9,    # 2022
    9.0]
p_elow = -0.7

# ---------------------------------------------------------------- layout
W, H = 3696, 1903
fig = plt.figure(figsize=(W / 100, H / 100), dpi=100)
ROWS = [85, 320, 557, 704, 852, 1089, 1236, 1383, 1500, 1619]
XLIM = (1988.67, 2024.3)
GRAY_Y = '#7c7c7c'
FRAME = '#5c5c5c'


def make_column(x0, x1):
    axes = []
    for i in range(9):
        top, bot = ROWS[i], ROWS[i + 1]
        ax = fig.add_axes([x0 / W, 1 - bot / H, (x1 - x0) / W, (bot - top) / H])
        ax.set_xlim(*XLIM)
        ax.set_xticks(YEAR_TICKS)
        ax.tick_params(axis='x', direction='in', length=9, width=2.2,
                       labelbottom=False, color='black')
        for s in ('left', 'right'):
            ax.spines[s].set_color(FRAME)
            ax.spines[s].set_linewidth(2.6)
        for s in ('top', 'bottom'):
            ax.spines[s].set_color('black')
            ax.spines[s].set_linewidth(3.2)
        axes.append(ax)
    axes[0].spines['top'].set_color(FRAME)
    axes[-1].spines['bottom'].set_color(FRAME)
    last = axes[-1]
    last.tick_params(axis='x', labelbottom=True, labelsize=28, pad=14)
    last.plot([YEAR_TICKS[0], YEAR_TICKS[-1]], [0, 0], color='black', lw=4,
              transform=blended_transform_factory(last.transData, last.transAxes),
              clip_on=False, solid_capstyle='butt', zorder=5)
    return axes


def yaxis(ax, side, ticks, labels, lim, name):
    ax.set_ylim(*lim)
    ax.yaxis.set_ticks_position(side)
    ax.set_yticks(ticks)
    ax.set_yticklabels(labels, rotation=90, va='center')
    ax.tick_params(axis='y', direction='in', length=9, width=2.2, labelsize=21, pad=12)
    ax.set_ylabel(name, fontsize=28)
    ax.yaxis.set_label_position('left')
    ax.yaxis.set_label_coords(-0.046, 0.5)
    xa = 0 if side == 'left' else 1
    ax.plot([xa, xa], [ticks[0], ticks[-1]], color='black', lw=2.6,
            transform=blended_transform_factory(ax.transAxes, ax.transData),
            clip_on=False, solid_capstyle='butt', zorder=5)


def cp_lines(ax, xs):
    for x in xs:
        ax.axvline(x, color='black', lw=1.3, linestyle=(0, (7, 5)), zorder=4)


def draw_column(axes, d):
    aY, aS, aPs, aOs, aT, aPt, aOt, aSl, aE = axes
    # Y panel
    d['Y'](aY)
    aY.plot(d['fit_x'], d['fit_v'], color='black', lw=2.8, zorder=4)
    # season
    aS.plot(d['season_x'], d['season_v'], color='#ff0000', lw=1.3, zorder=3)
    cp_lines(aS, d['scp'])
    # Pr(scp)
    aPs.vlines(d['scp_px'], 0, d['scp_pv'], color='#ff0000', lw=1.6)
    aPs.hlines(0, DATA_START, DATA_END, color='#ffb0b0', lw=6)
    aPs.hlines(0, DATA_START, DATA_END, color='#ff0000', lw=2)
    cp_lines(aPs, d['scp'])
    # orderS
    aOs.step(d['ords_x'], d['ords_v'], where='post', color='#ffb0b0', lw=5)
    aOs.step(d['ords_x'], d['ords_v'], where='post', color='#ff0000', lw=1.8)
    cp_lines(aOs, d['scp'])
    # trend
    aT.plot(d['trend_x'], d['trend_v'], color='#b8ffb8', lw=5)
    aT.plot(d['trend_x'], d['trend_v'], color='#00ff00', lw=1.8)
    cp_lines(aT, d['tcp'])
    # Pr(tcp)
    aPt.vlines(d['tcp_px'], 0, d['tcp_pv'], color='#00ff00', lw=1.6)
    aPt.hlines(0, DATA_START, DATA_END, color='#b8ffb8', lw=6)
    aPt.hlines(0, DATA_START, DATA_END, color='#00ff00', lw=2)
    cp_lines(aPt, d['tcp'])
    # orderT
    aOt.step(d['ordt_x'], d['ordt_v'], where='post', color='#b8ffb8', lw=5)
    aOt.step(d['ordt_x'], d['ordt_v'], where='post', color='#00ff00', lw=1.8)
    cp_lines(aOt, d['tcp'])
    # slope sign
    sx = np.array(d['slp_x'])
    pos = np.array(d['slp_pos'])
    zero = np.array(d['slp_zero'])
    aSl.fill_between(sx, 0, pos, step='post', color='#8080ff', lw=0)
    aSl.fill_between(sx, pos, pos + zero, step='post', color='#80ff80', lw=0)
    aSl.fill_between(sx, pos + zero, 1, step='post', color='#ff8080', lw=0)
    aSl.hlines(0.5, DATA_START, DATA_END, color='#333333', lw=4.3,
               linestyle=(0, (2.2, 1.8)))
    # error
    d['E'](aE)


def temp_y(ax):
    px = np.r_[t_ytop_x, t_ybot_x[::-1]]
    py = np.r_[t_ytop_v, t_ybot_v[::-1]]
    ax.fill(px, py, facecolor=GRAY_Y, edgecolor=GRAY_Y, lw=9, joinstyle='round')
    ax.plot(t_ytop_x, t_ytop_v, 'o', ms=13, mfc='none', mec=GRAY_Y, mew=2.2)
    ax.plot(t_ybot_x, t_ybot_v, 'o', ms=13, mfc='none', mec=GRAY_Y, mew=2.2)


def temp_e(ax):
    ex = np.arange(len(t_err_top)) / 6.0 + DATA_START
    ax.fill_between(ex, t_err_bot, t_err_top, facecolor='#a9a9a9', edgecolor='#a9a9a9', lw=0.8)


def prec_y(ax):
    ax.fill_between(p_ytop_x, p_ylow, p_ytop_v, facecolor=GRAY_Y, edgecolor=GRAY_Y, lw=9)
    ax.plot(p_ytop_x, p_ytop_v, 'o', ms=13, mfc='none', mec=GRAY_Y, mew=2.2)
    ax.plot(p_out_x, p_out_v, 'o', ms=13, mfc='none', mec=GRAY_Y, mew=2.2)


def prec_e(ax):
    ex = np.arange(len(p_err_top)) / 6.0 + DATA_START
    ax.fill_between(ex, p_elow, p_err_top, facecolor='#a9a9a9', edgecolor='#a9a9a9', lw=0.8)


left = make_column(139, 1724)
right = make_column(2055.5, 3640)

t_season_x = np.arange(len(t_season)) / 6.0 + DATA_START
draw_column(left, dict(
    Y=temp_y, fit_x=t_fit_x, fit_v=t_fit_v,
    season_x=t_season_x, season_v=t_season, scp=t_scp,
    scp_px=t_scp_prob_x, scp_pv=t_scp_prob_v, ords_x=t_ords_x, ords_v=t_ords_v,
    trend_x=t_trend_x, trend_v=t_trend_v, tcp=t_tcp,
    tcp_px=t_tcp_prob_x, tcp_pv=t_tcp_prob_v, ordt_x=t_ordt_x, ordt_v=t_ordt_v,
    slp_x=t_slp_x, slp_pos=t_slp_pos, slp_zero=t_slp_zero, E=temp_e))
draw_column(right, dict(
    Y=prec_y, fit_x=p_fit_x, fit_v=p_fit_v,
    season_x=p_season_x, season_v=p_season_v, scp=p_scp,
    scp_px=p_scp_prob_x, scp_pv=p_scp_prob_v, ords_x=p_ords_x, ords_v=p_ords_v,
    trend_x=p_trend_x, trend_v=p_trend_v, tcp=p_tcp,
    tcp_px=p_tcp_prob_x, tcp_pv=p_tcp_prob_v, ordt_x=p_ordt_x, ordt_v=p_ordt_v,
    slp_x=p_slp_x, slp_pos=p_slp_pos, slp_zero=p_slp_zero, E=prec_e))

NAMES = ['Y', 'season', 'Pr(scp)', r'order$_{\rm S}$', 'trend', 'Pr(tcp)',
         r'order$_{\rm T}$', 'slpSign', 'error']
SIDES = ['left', 'right', 'left', 'right', 'left', 'right', 'left', 'right', 'left']
r05 = [0, 0.05, 0.10, 0.15, 0.20, 0.25]
r06 = [0, 0.05, 0.10, 0.15, 0.20, 0.25, 0.30]
r02 = [0, 0.2, 0.4, 0.6, 0.8, 1.0]
t_axes = [
    ([-10, -5, 0, 5, 10, 15, 20], ['-10', '', '', '5', '', '', '20'], (-14.1, 21.5)),
    ([-3, -2, -1, 0, 1, 2], ['-3', '', '', '0', '', '2'], (-3.87, 2.95)),
    (r05, ['0.00', '', '', '', '', '0.25'], (-0.008, 0.298)),
    ([0, 1, 2, 3, 4, 5], ['0', '', '', '3', '', ''], (-0.2, 5.2)),
    ([-1, 0, 1, 2], ['-1', '', '1', ''], (-1.94, 2.97)),
    (r05, ['0.00', '', '', '', '', '0.25'], (-0.008, 0.28)),
    (r02, ['0.0', '', '', '', '0.8', ''], (-0.04, 1.04)),
    (r02, ['0.0', '', '', '', '', '1.0'], (-0.04, 1.04)),
    ([-10, -5, 0, 5, 10, 15, 20], ['-10', '', '', '', '', '', ''], (-15.0, 22.4)),
]
p_axes = [
    ([0, 5, 10, 15], ['0', '', '10', ''], (-1.37, 19.26)),
    ([-0.5, 0, 0.5, 1.0], ['-0.5', '', '0.5', ''], (-0.88, 1.29)),
    (r06, ['0.00', '', '', '', '', '', '0.30'], (-0.011, 0.34)),
    ([0, 1, 2, 3, 4, 5], ['0', '', '', '3', '', ''], (-0.2, 5.2)),
    ([-1.0, -0.5, 0, 0.5, 1.0], ['-1.0', '', '0.0', '', '1.0'], (-1.09, 1.045)),
    (r06, ['0.00', '', '', '', '', '', '0.30'], (-0.012, 0.335)),
    (r02, ['0.0', '', '', '', '0.8', ''], (-0.04, 1.04)),
    (r02, ['0.0', '', '', '', '', '1.0'], (-0.04, 1.04)),
    ([0, 5, 10, 15], ['0', '', '', '15'], (-1.8, 19.5)),
]
for axes, spec in ((left, t_axes), (right, p_axes)):
    for ax, name, side, (ticks, labels, lim) in zip(axes, NAMES, SIDES, spec):
        yaxis(ax, side, ticks, labels, lim, name)

# titles, axis titles and captions
fig.text(931.5 / W, 1 - 36 / H, 'BEAST Decomposition - Temperature Anomalies',
         ha='center', va='center', fontsize=29, fontweight='bold')
fig.text(2848 / W, 1 - 36 / H, 'BEAST Decomposition - Precipitation Anomalies',
         ha='center', va='center', fontsize=29, fontweight='bold')
fig.text(931.5 / W, 1 - 1706 / H, 'Time', ha='center', va='center', fontsize=28)
fig.text(2848 / W, 1 - 1706 / H, 'Time', ha='center', va='center', fontsize=28)
fig.text(902 / W, 1 - 1837 / H, '(a) Temperature anomalies', ha='center', va='center',
         fontsize=55, family=['Liberation Serif', 'DejaVu Serif'])
fig.text(2816 / W, 1 - 1837 / H, '(b) Precipitation anomalies', ha='center', va='center',
         fontsize=55, family=['Liberation Serif', 'DejaVu Serif'])

fig.savefig('out.png', dpi=100, facecolor='white')
